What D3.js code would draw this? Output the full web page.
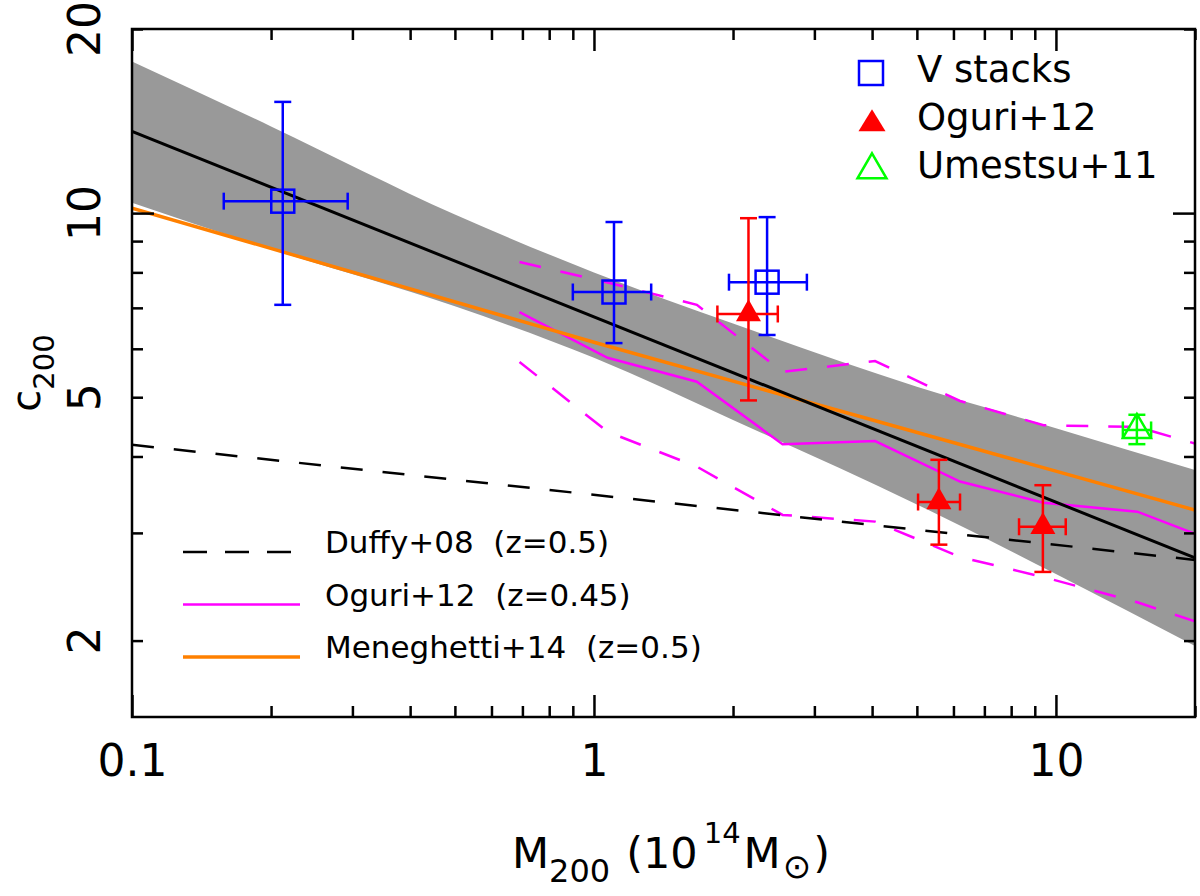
<!DOCTYPE html>
<html>
<head>
<meta charset="utf-8">
<style>
  body { margin: 0; background: #fff; }
  text { font-family: "DejaVu Sans", sans-serif; fill: #000; white-space: pre; }
</style>
</head>
<body>
<div id="container"></div>
<script src="https://cdn.jsdelivr.net/npm/d3@7"></script>
<script>

// tick values
const massMajor = [0.1, 1, 10];
const massMinor = [0.2, 0.3, 0.4, 0.5, 0.6, 0.7, 0.8, 0.9, 2, 3, 4, 5, 6, 7, 8, 9, 20];
const concMajor = [10];
const concMinor = [2, 3, 4, 5, 6, 7, 8, 9, 20];
const concLabels = [2, 5, 10, 20];

// V stacks (blue squares)
const vM    = [0.212, 1.105, 2.37];
const vMlo  = [0.158, 0.90, 1.96];
const vMhi  = [0.293, 1.33, 2.89];
const vC    = [10.46, 7.43, 7.71];
const vClo  = [7.08, 6.13, 6.32];
const vChi  = [15.2, 9.67, 9.85];

// Oguri+12 clusters (red filled triangles)
const ogM   = [2.16, 5.58, 9.37];
const ogMlo = [1.85, 5.03, 8.32];
const ogMhi = [2.50, 6.20, 10.5];
const ogC   = [6.84, 3.37, 3.07];
const ogClo = [4.94, 2.87, 2.59];
const ogChi = [9.81, 3.95, 3.59];

// Umetsu+11 (green open triangle)
const umM   = [14.97];
const umMlo = [13.96];
const umMhi = [16.07];
const umC   = [4.42];
const umClo = [4.19];
const umChi = [4.68];

// best fit and its band
const fitM = [0.1, 20];
const fitC = [13.6, 2.73];
const bandM  = [0.1, 0.2, 0.5, 1, 2, 5, 10, 20];
const bandHi = [17.7, 13.86, 9.95, 8.0, 6.6, 5.2, 4.45, 3.80];
const bandLo = [10.4, 8.73, 7.04, 5.80, 4.59, 3.34, 2.57, 1.96];

// model relations
const duffyM = [0.1, 20];
const duffyC = [4.18, 2.71];
const menM = [0.1, 1, 20];
const menC = [10.19, 6.15, 3.27];
const oguriM   = [0.69, 1.07, 1.67, 2.56, 4.06, 6.2, 9.4, 15.0, 20];
const oguriMed = [6.89, 5.80, 5.30, 4.19, 4.24, 3.64, 3.36, 3.25, 2.99];
const oguriUp  = [8.32, 7.70, 7.08, 5.50, 5.73, 4.93, 4.50, 4.47, 4.20];
const oguriLow = [5.71, 4.39, 3.85, 3.21, 3.13, 2.74, 2.54, 2.31, 2.15];

const BLUE = "#0000ff", RED = "#ff0000", GREEN = "#00ff00",
      MAGENTA = "#ff00ff", ORANGE = "#ff8000";

const W = 1200, H = 896;
const padL = 132, padR = 1195, padT = 29, padB = 717;

const svg = d3.select("#container")
  .append("svg")
  .attr("width", W)
  .attr("height", H);

const x = d3.scaleLog().domain([0.1, 20]).range([padL, padR]);
const y = d3.scaleLog().domain([1.5, 20]).range([padB, padT]);

svg.append("clipPath").attr("id", "plot")
  .append("rect")
  .attr("x", padL).attr("y", padT)
  .attr("width", padR - padL).attr("height", padB - padT);

const plot = svg.append("g").attr("clip-path", "url(#plot)");

const line = d3.line().x(d => x(d[0])).y(d => y(d[1]));
const zip = (a, b) => a.map((v, i) => [v, b[i]]);

// grey band
plot.append("path")
  .datum(bandM.map((m, i) => [m, bandLo[i], bandHi[i]]))
  .attr("fill", "#999999")
  .attr("d", d3.area().curve(d3.curveMonotoneX)
    .x(d => x(d[0])).y0(d => y(d[1])).y1(d => y(d[2])));

// Oguri+12 model: median and scatter
plot.append("path").datum(zip(oguriM, oguriUp))
  .attr("d", line).attr("fill", "none")
  .attr("stroke", MAGENTA).attr("stroke-width", 2.5).attr("stroke-dasharray", "22,20");
plot.append("path").datum(zip(oguriM, oguriLow))
  .attr("d", line).attr("fill", "none")
  .attr("stroke", MAGENTA).attr("stroke-width", 2.5).attr("stroke-dasharray", "22,20");
plot.append("path").datum(zip(oguriM, oguriMed))
  .attr("d", line).attr("fill", "none")
  .attr("stroke", MAGENTA).attr("stroke-width", 2.5);

// Duffy+08
plot.append("path").datum(zip(duffyM, duffyC))
  .attr("d", line).attr("fill", "none")
  .attr("stroke", "#000").attr("stroke-width", 2.5).attr("stroke-dasharray", "22,20");

// Meneghetti+14
plot.append("path").datum(zip(menM, menC))
  .attr("d", line).attr("fill", "none")
  .attr("stroke", ORANGE).attr("stroke-width", 3.5);

// best fit
plot.append("path").datum(zip(fitM, fitC))
  .attr("d", line).attr("fill", "none")
  .attr("stroke", "#000").attr("stroke-width", 3);

// error bars with caps
function errorBars(M, Mlo, Mhi, C, Clo, Chi, color) {
  const g = svg.append("g").attr("stroke", color).attr("stroke-width", 2.5).attr("fill", "none");
  const cap = 8.5;
  M.forEach((m, i) => {
    const px = x(m), py = y(C[i]);
    const x0 = x(Mlo[i]), x1 = x(Mhi[i]), y0 = y(Clo[i]), y1 = y(Chi[i]);
    g.append("line").attr("x1", x0).attr("x2", x1).attr("y1", py).attr("y2", py);
    g.append("line").attr("x1", x0).attr("x2", x0).attr("y1", py - cap).attr("y2", py + cap);
    g.append("line").attr("x1", x1).attr("x2", x1).attr("y1", py - cap).attr("y2", py + cap);
    g.append("line").attr("x1", px).attr("x2", px).attr("y1", y0).attr("y2", y1);
    g.append("line").attr("x1", px - cap).attr("x2", px + cap).attr("y1", y0).attr("y2", y0);
    g.append("line").attr("x1", px - cap).attr("x2", px + cap).attr("y1", y1).attr("y2", y1);
  });
}

function triPath(w, h) {
  return `M0,${-2 * h / 3}L${w / 2},${h / 3}L${-w / 2},${h / 3}Z`;
}

errorBars(vM, vMlo, vMhi, vC, vClo, vChi, BLUE);
errorBars(ogM, ogMlo, ogMhi, ogC, ogClo, ogChi, RED);
errorBars(umM, umMlo, umMhi, umC, umClo, umChi, GREEN);

svg.append("g").selectAll("rect")
  .data(zip(vM, vC))
  .join("rect")
  .attr("x", d => x(d[0]) - 11.5).attr("y", d => y(d[1]) - 11.5)
  .attr("width", 23).attr("height", 23)
  .attr("fill", "none").attr("stroke", BLUE).attr("stroke-width", 2.5);

svg.append("g").selectAll("path")
  .data(zip(ogM, ogC))
  .join("path")
  .attr("transform", d => `translate(${x(d[0])},${y(d[1])})`)
  .attr("d", triPath(25, 22))
  .attr("fill", RED);

svg.append("g").selectAll("path")
  .data(zip(umM, umC))
  .join("path")
  .attr("transform", d => `translate(${x(d[0])},${y(d[1])})`)
  .attr("d", triPath(28, 24))
  .attr("fill", "none").attr("stroke", GREEN).attr("stroke-width", 2.5);

// axes: ticks on all four sides, pointing inward
function styleAxis(g) {
  g.select(".domain").remove();
  g.selectAll("line").attr("stroke", "#000").attr("stroke-width", 2.5);
  g.selectAll("text").attr("font-size", 44).attr("font-family", "DejaVu Sans, sans-serif").attr("fill", "#000");
}

svg.append("g").attr("transform", `translate(0,${padB})`)
  .call(d3.axisBottom(x).tickValues(massMajor).tickSizeInner(-22).tickSizeOuter(0)
    .tickPadding(28).tickFormat(d => d))
  .call(styleAxis);
svg.append("g").attr("transform", `translate(0,${padB})`)
  .call(d3.axisBottom(x).tickValues(massMinor).tickSizeInner(-11).tickSizeOuter(0).tickFormat(""))
  .call(styleAxis);
svg.append("g").attr("transform", `translate(0,${padT})`)
  .call(d3.axisTop(x).tickValues(massMajor).tickSizeInner(-22).tickSizeOuter(0).tickFormat(""))
  .call(styleAxis);
svg.append("g").attr("transform", `translate(0,${padT})`)
  .call(d3.axisTop(x).tickValues(massMinor).tickSizeInner(-11).tickSizeOuter(0).tickFormat(""))
  .call(styleAxis);

svg.append("g").attr("transform", `translate(${padL},0)`)
  .call(d3.axisLeft(y).tickValues(concMajor).tickSizeInner(-22).tickSizeOuter(0).tickFormat(""))
  .call(styleAxis);
svg.append("g").attr("transform", `translate(${padL},0)`)
  .call(d3.axisLeft(y).tickValues(concMinor).tickSizeInner(-11).tickSizeOuter(0).tickFormat(""))
  .call(styleAxis);
svg.append("g").attr("transform", `translate(${padR},0)`)
  .call(d3.axisRight(y).tickValues(concMajor).tickSizeInner(-22).tickSizeOuter(0).tickFormat(""))
  .call(styleAxis);
svg.append("g").attr("transform", `translate(${padR},0)`)
  .call(d3.axisRight(y).tickValues(concMinor).tickSizeInner(-11).tickSizeOuter(0).tickFormat(""))
  .call(styleAxis);

// rotated y tick labels
svg.append("g").selectAll("text")
  .data(concLabels)
  .join("text")
  .attr("transform", d => `translate(${padL - 32},${y(d)}) rotate(-90)`)
  .attr("text-anchor", "middle")
  .attr("font-size", 44)
  .text(d => d);

// frame
svg.append("rect")
  .attr("x", padL).attr("y", padT)
  .attr("width", padR - padL).attr("height", padB - padT)
  .attr("fill", "none").attr("stroke", "#000").attr("stroke-width", 2.5);

// axis titles
const xt = svg.append("text").attr("x", 512).attr("y", 868).attr("font-size", 43);
xt.append("tspan").text("M");
xt.append("tspan").attr("font-size", 32).attr("dy", 14).text("200");
xt.append("tspan").attr("dy", -14).attr("dx", 16).text("(10");
xt.append("tspan").attr("font-size", 29).attr("dy", -25).attr("dx", 6).text("14");
xt.append("tspan").attr("dy", 25).attr("dx", 3).text("M");
xt.append("tspan").attr("font-size", 34).attr("dy", 10).attr("dx", 2).text("\u2299");
xt.append("tspan").attr("dy", -10).attr("dx", 2).text(")");

const yt = svg.append("text")
  .attr("transform", `translate(40,373) rotate(-90)`)
  .attr("text-anchor", "middle")
  .attr("font-size", 40);
yt.append("tspan").text("c");
yt.append("tspan").attr("font-size", 29).attr("dy", 14).text("200");

// legend, top right
const legTop = svg.append("g");
legTop.append("rect").attr("x", 871 - 12).attr("y", 73 - 12).attr("width", 24).attr("height", 24)
  .attr("fill", "none").attr("stroke", BLUE).attr("stroke-width", 2.5);
legTop.append("path").attr("transform", "translate(872,124)").attr("d", triPath(27, 22)).attr("fill", RED);
legTop.append("path").attr("transform", "translate(872,170)").attr("d", triPath(29, 25))
  .attr("fill", "none").attr("stroke", GREEN).attr("stroke-width", 2.5);
const topNames = ["V stacks", "Oguri+12", "Umestsu+11"];
legTop.selectAll("text")
  .data(topNames)
  .join("text")
  .attr("x", 917).attr("y", (d, i) => 82 + i * 48)
  .attr("font-size", 37)
  .text(d => d);

// legend, bottom left
const lineNames = ["Duffy+08  (z=0.5)", "Oguri+12  (z=0.45)", "Meneghetti+14  (z=0.5)"];
const lineColors = ["#000", MAGENTA, ORANGE];
const lineDash = ["24,18", null, null];
const legBot = svg.append("g");
lineNames.forEach((name, i) => {
  const ly = 552 + i * 52.5;
  legBot.append("line").attr("x1", 183).attr("x2", 300).attr("y1", ly).attr("y2", ly)
    .attr("stroke", lineColors[i]).attr("stroke-width", i === 2 ? 3.5 : 2.5)
    .attr("stroke-dasharray", lineDash[i]);
  legBot.append("text").attr("x", 325).attr("y", ly + 1).attr("font-size", 31).text(name);
});

</script>
</body>
</html>
